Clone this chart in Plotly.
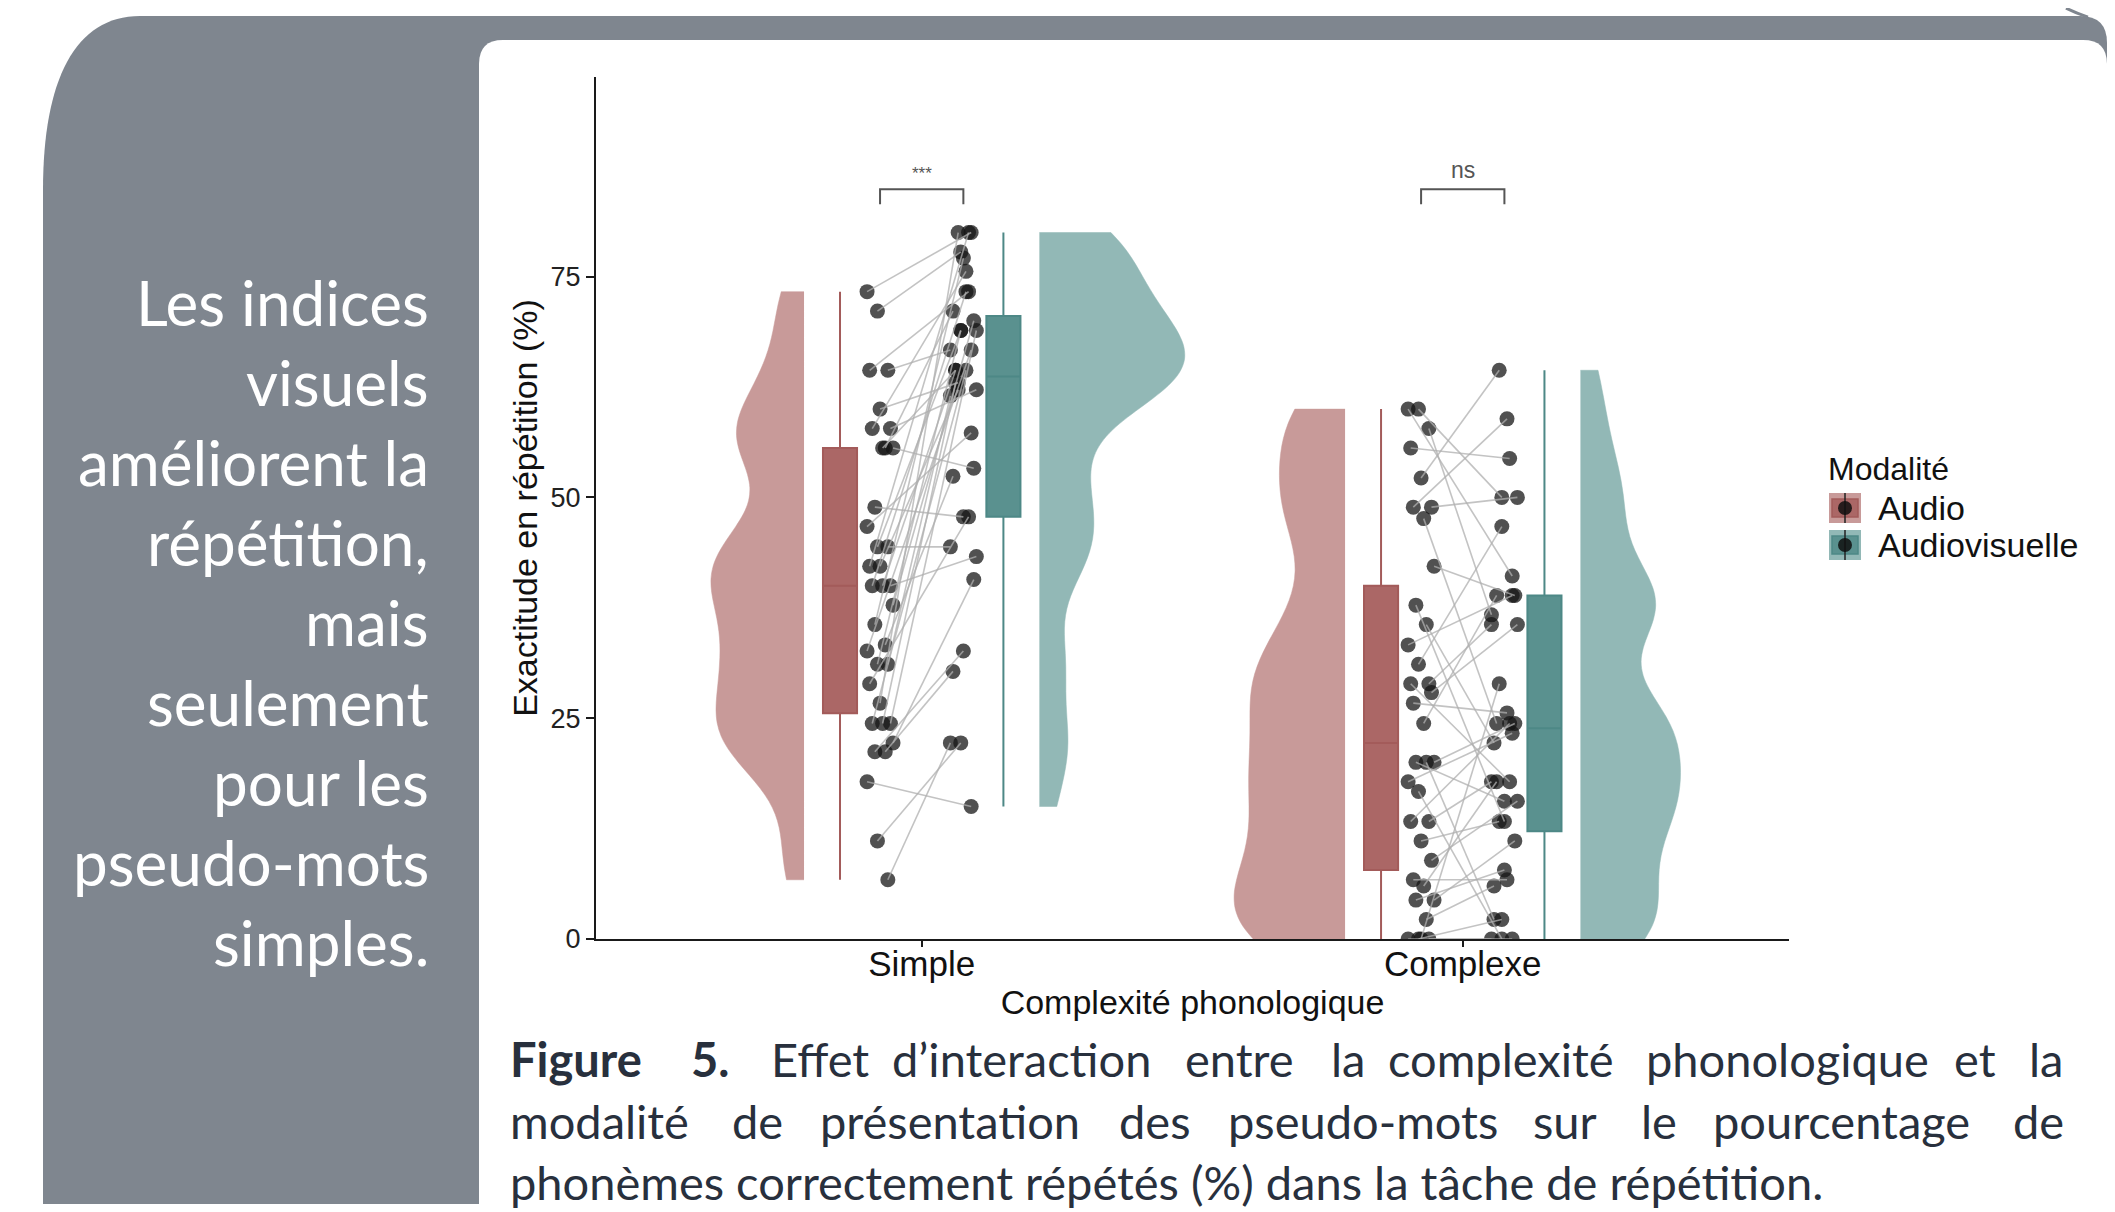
import numpy as np
import plotly.graph_objects as go

# ---------------- data ----------------
categories = ["Simple", "Complexe"]
modalities = ["Audio", "Audiovisuelle"]

# paired values (same index = same participant)
simple_audio = [73.3, 71.1, 64.4, 64.4, 60.0, 57.8, 57.8, 55.6, 55.6, 48.9, 55.6, 46.7,
                44.4, 44.4, 42.2, 42.2, 40.0, 40.0, 40.0, 37.8, 35.6, 33.3, 32.6, 31.1,
                31.1, 28.9, 26.7, 24.4, 24.4, 24.4, 22.2, 21.2, 21.2, 17.8, 11.1, 6.7]
simple_av = [80.0, 77.8, 66.7, 73.3, 63.0, 62.2, 75.6, 64.4, 53.3, 47.8, 71.1, 57.3,
             68.9, 44.4, 80.0, 62.2, 43.3, 73.3, 64.4, 70.0, 77.1, 52.4, 66.7, 68.9,
             61.5, 47.8, 80.0, 68.9, 64.4, 63.0, 40.7, 32.6, 30.3, 15.0, 22.2, 22.2]

complex_audio = [60.0, 60.0, 57.8, 55.6, 52.2, 48.9, 48.9, 47.6, 42.2, 37.8, 35.6, 33.3,
                 31.1, 28.9, 28.9, 0.0, 27.9, 26.7, 24.4, 20.0, 20.0, 20.0, 17.8, 16.7,
                 13.3, 13.3, 11.1, 8.9, 6.7, 6.0, 4.4, 4.4, 2.2, 0.0, 0.0, 0.0]
complex_av = [41.1, 50.0, 36.7, 54.4, 64.4, 50.0, 58.9, 24.4, 38.9, 13.3, 22.2, 38.9,
              46.7, 35.6, 17.8, 28.9, 35.6, 25.6, 38.9, 24.4, 15.6, 2.2, 23.3, 0.0,
              17.8, 24.4, 13.3, 15.6, 6.7, 17.8, 11.1, 7.8, 6.0, 0.0, 2.2, 0.0]

significance = ["***", "ns"]
y_ticks = [0, 25, 50, 75]

# ---------------- styling / geometry ----------------
# The page keeps the browser's default 8px body margin. The photographed area is a bit
# taller than the window (about 1227 px squeezed into 1212), so the figure is made that
# tall and vertical positions are stretched by the same factor.
PAGE_W, REF_H, CAPTURE_H, BODY_M = 2115, 1212, 1227, 8
KY = CAPTURE_H / REF_H
W, H = PAGE_W - 2 * BODY_M, CAPTURE_H - 2 * BODY_M
def px(x): return (x - BODY_M) / W
def py(y): return 1 - (y * KY - BODY_M) / H

X_RANGE = [0.398, 2.603]
Y_RANGE = [0, 97.6]
OFF_VIOLIN = 0.2175
OFF_BOX = 0.151
OFF_PTS = 0.077
JIT = 0.024
BOX_W = 0.063
BW_ADJUST = 0.6
VIOLIN_EXTENT = [[0.172, 0.268], [0.205, 0.185]]
VIOLIN_FILL = ["#c89a99", "#92b8b6"]
BOX_FILL = ["#ab6766", "#5a918f"]
BOX_LINE = ["#a35b5a", "#4d8886"]
PT_COLOR = "rgba(20,20,20,0.74)"
LINK_COLOR = "rgba(175,175,175,0.75)"
CHART_FONT = "Liberation Sans, Arial, sans-serif"
POSTER_FONT = "Lato, Open Sans, sans-serif"
GRAY = "#7f868f"

data = [(simple_audio, simple_av), (complex_audio, complex_av)]


def nrd0(v):
    v = np.asarray(v, dtype=float)
    sd = v.std(ddof=1)
    q75, q25 = np.percentile(v, [75, 25])
    lo = min(sd, (q75 - q25) / 1.34)
    return 0.9 * lo * len(v) ** -0.2


def jitter(n):
    return [(((i * 37) % 11) / 10.0 - 0.5) * 2 * JIT for i in range(n)]


fig = go.Figure()

# half violins
for ci, cat in enumerate(categories):
    center = ci + 1
    for mi, mod in enumerate(modalities):
        vals = data[ci][mi]
        sign = -1 if mi == 0 else 1
        fig.add_trace(go.Violin(
            y=vals, x0=center + sign * OFF_VIOLIN, side="negative" if mi == 0 else "positive",
            width=2 * VIOLIN_EXTENT[ci][mi], fillcolor=VIOLIN_FILL[mi],
            line=dict(color=VIOLIN_FILL[mi], width=0.5), points=False, spanmode="hard",
            bandwidth=BW_ADJUST * nrd0(vals), box_visible=False, meanline_visible=False,
            scalemode="width", name=mod, showlegend=False, hoverinfo="skip"))

# boxes
for ci, cat in enumerate(categories):
    center = ci + 1
    for mi, mod in enumerate(modalities):
        vals = data[ci][mi]
        sign = -1 if mi == 0 else 1
        fig.add_trace(go.Box(
            y=vals, x0=center + sign * OFF_BOX, width=BOX_W, name=mod, legendgroup=mod,
            showlegend=False, fillcolor=BOX_FILL[mi],
            line=dict(color=BOX_LINE[mi], width=2), whiskerwidth=0, boxpoints=False,
            hoverinfo="skip"))

# points and paired lines
for ci, cat in enumerate(categories):
    center = ci + 1
    a_vals, v_vals = data[ci]
    ja = jitter(len(a_vals))
    jv = jitter(len(v_vals))[::-1]
    xa = [center - OFF_PTS + j for j in ja]
    xv = [center + OFF_PTS + j for j in jv]
    fig.add_trace(go.Scatter(x=xa + xv, y=list(a_vals) + list(v_vals), mode="markers",
                             marker=dict(size=15, color=PT_COLOR, line=dict(width=0)),
                             showlegend=False, hoverinfo="skip"))
    lx, ly = [], []
    for x1, y1, x2, y2 in zip(xa, a_vals, xv, v_vals):
        lx += [x1, x2, None]
        ly += [y1, y2, None]
    fig.add_trace(go.Scatter(x=lx, y=ly, mode="lines",
                             line=dict(color=LINK_COLOR, width=1.6),
                             showlegend=False, hoverinfo="skip"))

shapes = []
# poster background panels (kept inside the paper)
R = PAGE_W - BODY_M
B = (CAPTURE_H - BODY_M) / KY
gray_path = (f"M {px(43)},{py(B)} L {px(43)},{py(190)} "
             f"C {px(43)},{py(80)} {px(75)},{py(16)} {px(140)},{py(16)} "
             f"L {px(2080)},{py(16)} Q {px(R)},{py(16)} {px(R)},{py(43)} "
             f"L {px(R)},{py(B)} Z")
white_path = (f"M {px(479)},{py(B)} L {px(479)},{py(64)} "
              f"Q {px(479)},{py(40)} {px(503)},{py(40)} "
              f"L {px(2083)},{py(40)} Q {px(R)},{py(40)} {px(R)},{py(64)} "
              f"L {px(R)},{py(B)} Z")
shapes.append(dict(type="path", path=gray_path, xref="paper", yref="paper",
                   fillcolor=GRAY, line=dict(width=0), layer="below"))
shapes.append(dict(type="path", path=white_path, xref="paper", yref="paper",
                   fillcolor="white", line=dict(width=0), layer="below"))
shapes.append(dict(type="path", xref="paper", yref="paper",
                   path=f"M {px(2066)},{py(8)} Q {px(2076)},{py(13)} {px(2088)},{py(17)}",
                   line=dict(color=GRAY, width=3)))

# significance brackets
BR_Y, BR_TIP = 84.9, 83.2
annotations = []
for ci, lab in enumerate(significance):
    c = ci + 1
    x1, x2 = c - OFF_PTS, c + OFF_PTS
    shapes.append(dict(type="path", xref="x", yref="y",
                       path=f"M {x1},{BR_TIP} L {x1},{BR_Y} L {x2},{BR_Y} L {x2},{BR_TIP}",
                       line=dict(color="#555555", width=2)))
    annotations.append(dict(x=c, y=BR_Y, xref="x", yref="y", text=lab, showarrow=False,
                            yanchor="bottom", yshift=4,
                            font=dict(family=CHART_FONT, size=17 if lab == "***" else 23,
                                      color="#555555")))

# legend (drawn as keys + texts to match the ggplot key glyphs)
LEG_X, LEG_TITLE_Y, LEG_Y0, LEG_DY = 1826, 469, 508, 37
annotations.append(dict(x=px(LEG_X), y=py(LEG_TITLE_Y), xref="paper", yref="paper",
                        text="Modalité", showarrow=False, xanchor="left", yanchor="middle",
                        font=dict(family=CHART_FONT, size=32, color="#111")))
for mi, mod in enumerate(modalities):
    cy = LEG_Y0 + mi * LEG_DY
    kx0, kx1 = LEG_X + 3, LEG_X + 35
    shapes.append(dict(type="rect", xref="paper", yref="paper", x0=px(kx0), x1=px(kx1),
                       y0=py(cy - 15), y1=py(cy + 15), fillcolor=VIOLIN_FILL[mi],
                       line=dict(width=0)))
    shapes.append(dict(type="rect", xref="paper", yref="paper", x0=px(kx0 + 3), x1=px(kx1 - 3),
                       y0=py(cy - 9), y1=py(cy + 9), fillcolor=BOX_FILL[mi],
                       line=dict(color=BOX_LINE[mi], width=1.5)))
    shapes.append(dict(type="line", xref="paper", yref="paper", x0=px((kx0 + kx1) / 2),
                       x1=px((kx0 + kx1) / 2), y0=py(cy - 15), y1=py(cy + 15),
                       line=dict(color="#222", width=1.5)))
    shapes.append(dict(type="circle", xref="paper", yref="paper",
                       x0=px((kx0 + kx1) / 2 - 7), x1=px((kx0 + kx1) / 2 + 7),
                       y0=py(cy - 7), y1=py(cy + 7), fillcolor="rgba(15,15,15,0.85)",
                       line=dict(width=0)))
    annotations.append(dict(x=px(LEG_X + 50), y=py(cy), xref="paper", yref="paper",
                            text=mod, showarrow=False, xanchor="left", yanchor="middle",
                            font=dict(family=CHART_FONT, size=34, color="#111")))

# left panel text
left_lines = ["Les indices", "visuels", "améliorent la", "répétition,", "mais",
              "seulement", "pour les", "pseudo-mots", "simples."]
for i, t in enumerate(left_lines):
    annotations.append(dict(x=px(431), y=py(302 + i * 80), xref="paper", yref="paper",
                            text=t, showarrow=False, xanchor="right", yanchor="middle",
                            font=dict(family=POSTER_FONT, size=62, color="white")))

# caption (justified by word positions)
CAP_COLOR = "#28303d"
CAP_SIZE = 47
cap_lines = [
    (1059, [("<b>Figure</b>", 511), ("<b>5.</b>", 692), ("Effet", 772), ("d’interaction", 893),
            ("entre", 1186), ("la", 1332), ("complexité", 1389), ("phonologique", 1647),
            ("et", 1955), ("la", 2030)]),
    (1121, [("modalité", 511), ("de", 733), ("présentation", 821), ("des", 1120),
            ("pseudo-mots", 1229), ("sur", 1534), ("le", 1642), ("pourcentage", 1714),
            ("de", 2014)]),
    (1182, [("phonèmes correctement répétés (%) dans la tâche de répétition.", 511)]),
]
for yy, words in cap_lines:
    for t, xx in words:
        annotations.append(dict(x=px(xx), y=py(yy), xref="paper", yref="paper", text=t,
                                showarrow=False, xanchor="left", yanchor="middle",
                                xshift=-3,
                                font=dict(family=POSTER_FONT, size=CAP_SIZE, color=CAP_COLOR)))

fig.update_layout(
    width=W, height=H, margin=dict(l=0, r=0, t=0, b=0),
    paper_bgcolor="white", plot_bgcolor="rgba(0,0,0,0)",
    boxmode="overlay", violinmode="overlay", showlegend=False,
    shapes=shapes, annotations=annotations,
    font=dict(family=CHART_FONT, color="#1a1a1a"),
    xaxis=dict(domain=[px(596), px(1789)], range=X_RANGE, tickvals=[1, 2], ticktext=categories,
               showline=True, linecolor="#1a1a1a", linewidth=2, ticks="outside", ticklen=6,
               tickwidth=2, tickcolor="#1a1a1a", showgrid=False, zeroline=False,
               tickfont=dict(size=35, color="#111"), ticklabelstandoff=-13,
               title=dict(text="Complexité phonologique", font=dict(size=34, color="#111"),
                          standoff=0)),
    yaxis=dict(domain=[py(939), py(77)], range=Y_RANGE, tickvals=y_ticks,
               showline=True, linecolor="#1a1a1a", linewidth=2, ticks="outside", ticklen=8,
               tickwidth=2, tickcolor="#1a1a1a", showgrid=False, zeroline=False,
               tickfont=dict(size=27, color="#222"),
               title=dict(text="Exactitude en répétition (%)", font=dict(size=34, color="#111"),
                          standoff=3)),
)

fig.write_html("out.html", config={"displayModeBar": False})
